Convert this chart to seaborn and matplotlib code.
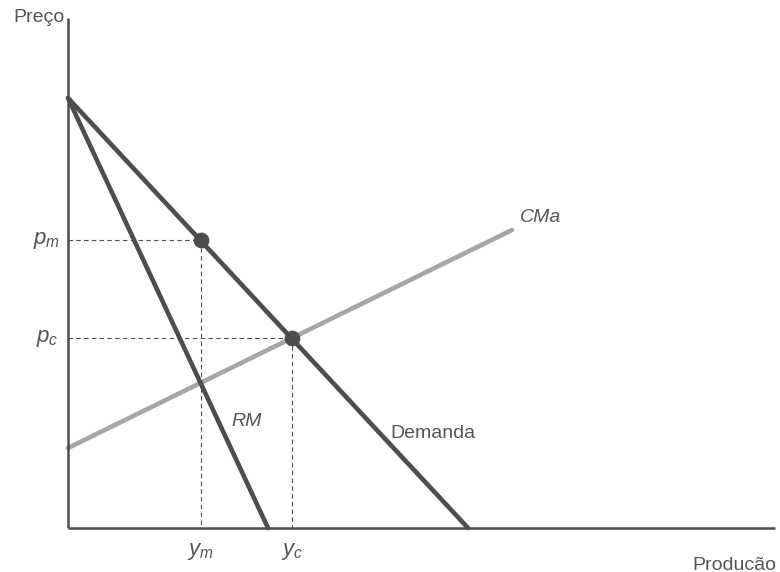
import numpy as np
import pandas as pd
import matplotlib
matplotlib.use("Agg")
import matplotlib.pyplot as plt
import seaborn as sns

# curvas (unidades arbitrárias de produção / preço)
demanda_x = [0, 400]
demanda_y = [430, 0]
rm_x = [0, 200]
rm_y = [430, 0]
cma_x = [0, 444]
cma_y = [80, 298]

eixo_x_max = 707
eixo_y_max = 510

sns.set_style("white")
plt.rcParams['font.family'] = ['Liberation Sans Narrow', 'Liberation Sans', 'DejaVu Sans']
plt.rcParams['mathtext.fontset'] = 'custom'
plt.rcParams['mathtext.it'] = 'Liberation Sans:italic'

escuro = '#4d4d4d'
claro = '#a6a6a6'
texto = '#555555'

fig = plt.figure(figsize=(7.8, 5.72), dpi=100)
ax = fig.add_axes([0, 0, 1, 1])
ax.set_xlim(-68, 712)
ax.set_ylim(-44, 528)
ax.axis('off')


def reta(xs, ys):
    a = (ys[1] - ys[0]) / (xs[1] - xs[0])
    return a, ys[0] - a * xs[0]


# interseções calculadas a partir das curvas
a_d, b_d = reta(demanda_x, demanda_y)
a_r, b_r = reta(rm_x, rm_y)
a_c, b_c = reta(cma_x, cma_y)
y_m = (b_c - b_r) / (a_r - a_c)
p_m = a_d * y_m + b_d
y_c = (b_c - b_d) / (a_d - a_c)
p_c = a_d * y_c + b_d

# linhas tracejadas
for qx, py in [(y_m, p_m), (y_c, p_c)]:
    ax.plot([0, qx], [py, py], ls=(0, (4, 3)), color=escuro, lw=0.8)
    ax.plot([qx, qx], [py, 0], ls=(0, (4, 3)), color=escuro, lw=0.8)

sns.lineplot(x=cma_x, y=cma_y, ax=ax, color=claro, lw=3.3)
sns.lineplot(x=rm_x, y=rm_y, ax=ax, color=escuro, lw=3.3)
sns.lineplot(x=demanda_x, y=demanda_y, ax=ax, color=escuro, lw=3.3)

# eixos
ax.plot([0, 0], [0, eixo_y_max], color=escuro, lw=1.8, solid_capstyle='butt')
ax.plot([0, eixo_x_max], [0, 0], color=escuro, lw=1.8, solid_capstyle='butt')

pts = pd.DataFrame({'x': [y_m, y_c], 'y': [p_m, p_c]})
sns.scatterplot(data=pts, x='x', y='y', ax=ax, color=escuro, s=110,
                edgecolor=escuro, zorder=5, legend=False)

fs = 14
ax.text(-29, 510, 'Preço', fontsize=fs, color=texto, ha='center', va='center')
ax.text(666, -37, 'Producão', fontsize=fs, color=texto, ha='center', va='center')
ax.text(-21, p_m, '$p_m$', fontsize=fs + 2, color=texto, ha='center', va='center')
ax.text(-21, p_c, '$p_c$', fontsize=fs + 2, color=texto, ha='center', va='center')
ax.text(y_m, -24, '$y_m$', fontsize=fs + 2, color=texto, ha='center', va='center')
ax.text(y_c, -24, '$y_c$', fontsize=fs + 2, color=texto, ha='center', va='center')
ax.text(cma_x[1] + 8, cma_y[1] + 13, 'CMa', fontsize=fs, color=texto,
        style='italic', ha='left', va='center')
ax.text(179, 106, 'RM', fontsize=fs, color=texto, style='italic', ha='center', va='center')
ax.text(322, 94, 'Demanda', fontsize=fs, color=texto, ha='left', va='center')

fig.savefig('out.png', dpi=100, facecolor='white')
